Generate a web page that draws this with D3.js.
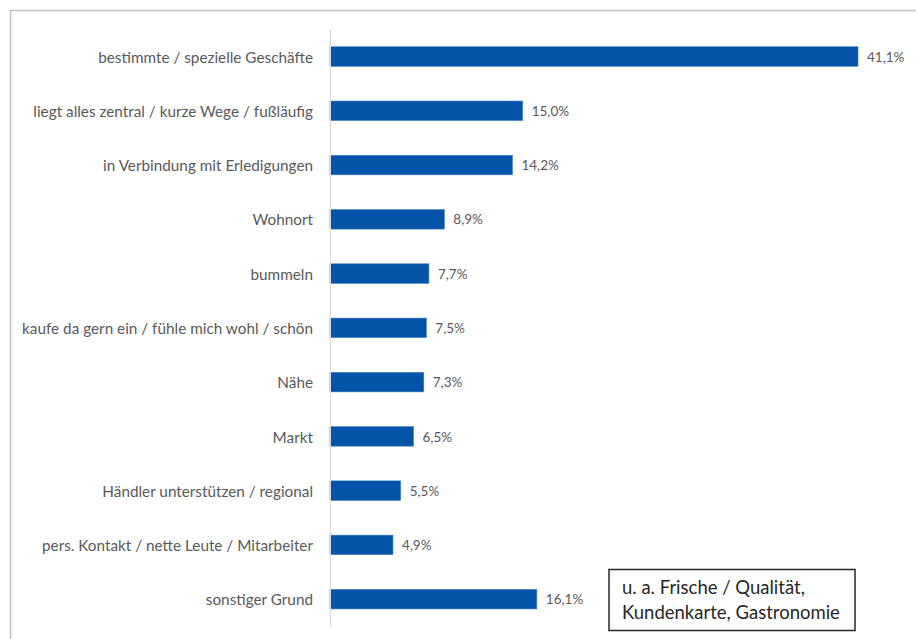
<!DOCTYPE html>
<html>
<head>
<meta charset="utf-8">
<script src="https://cdn.jsdelivr.net/npm/d3@7"></script>
<style>
  html, body { margin: 0; padding: 0; background: #fff; }
  svg { display: block; font-family: Lato, "Open Sans", sans-serif; }
</style>
</head>
<body>
<svg id="chart" width="916" height="639"></svg>
<script>
// Gründe für den Besuch (Anteile in %)
const categories = [
  "bestimmte / spezielle Geschäfte",
  "liegt alles zentral / kurze Wege / fußläufig",
  "in Verbindung mit Erledigungen",
  "Wohnort",
  "bummeln",
  "kaufe da gern ein / fühle mich wohl / schön",
  "Nähe",
  "Markt",
  "Händler unterstützen / regional",
  "pers. Kontakt / nette Leute / Mitarbeiter",
  "sonstiger Grund"
];
const values = [41.1, 15.0, 14.2, 8.9, 7.7, 7.5, 7.3, 6.5, 5.5, 4.9, 16.1];
const noteLines = ["u. a. Frische / Qualität,", "Kundenkarte, Gastronomie"];

const svg = d3.select("#chart");

// outer frame (runs past the right and bottom edge)
svg.append("path")
  .attr("d", "M10.5,650 V10.5 H930")
  .attr("fill", "none")
  .attr("stroke", "#c0c0c0")
  .attr("stroke-width", 1.5);

const x = d3.scaleLinear().domain([0, 41.1]).range([330, 858]);
const y = d3.scaleBand().domain(categories).range([29.4, 626.3]).paddingInner(0.64).paddingOuter(0.32);

// bars
svg.append("g").selectAll("rect")
  .data(values)
  .join("rect")
  .attr("x", x(0))
  .attr("y", (d, i) => y(categories[i]))
  .attr("width", d => x(d) - x(0))
  .attr("height", y.bandwidth())
  .attr("fill", "#0353a8")
  .attr("stroke", "#3f7fc6")
  .attr("stroke-width", 0.6);

// category axis
const yAxis = svg.append("g")
  .attr("transform", `translate(${x(0)},0)`)
  .call(d3.axisLeft(y).tickSize(0).tickPadding(17));
yAxis.select(".domain").attr("stroke", "#d9d9d9").attr("stroke-width", 1);
yAxis.selectAll("text")
  .attr("fill", "#595959")
  .attr("dy", "0.4em")
  .style("font-family", "Lato, 'Open Sans', sans-serif")
  .style("font-size", "15.3px");

// value labels
const fmt = v => d3.format(".1f")(v).replace(".", ",") + "%";
svg.append("g").selectAll("text")
  .data(values)
  .join("text")
  .attr("x", d => x(d) + 9)
  .attr("y", (d, i) => y(categories[i]) + y.bandwidth() / 2)
  .attr("dy", "0.38em")
  .attr("fill", "#595959")
  .style("font-size", "13.5px")
  .text(fmt);

// note box
const note = svg.append("g").attr("transform", "translate(609,569.5)");
note.append("rect")
  .attr("width", 246)
  .attr("height", 61)
  .attr("fill", "#fff")
  .attr("stroke", "#262626")
  .attr("stroke-width", 1.5);
note.selectAll("text")
  .data(noteLines)
  .join("text")
  .attr("x", 13)
  .attr("y", (d, i) => 24.5 + i * 25)
  .attr("fill", "#262626")
  .style("font-size", "18.5px")
  .text(d => d);
</script>
</body>
</html>
